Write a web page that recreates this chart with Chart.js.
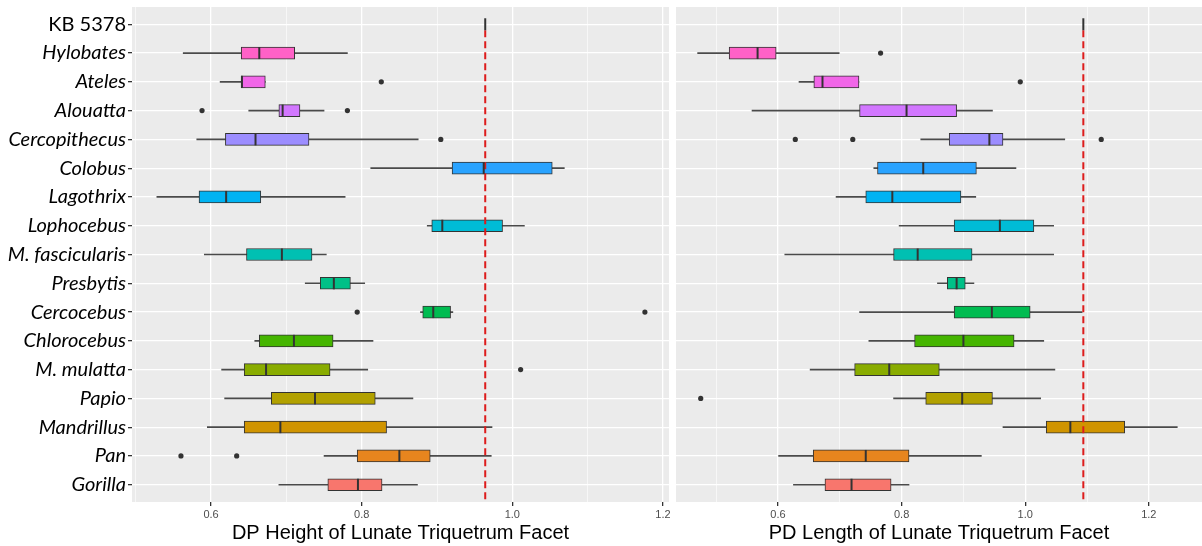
<!DOCTYPE html>
<html>
<head>
<meta charset="utf-8">
<script src="https://cdn.jsdelivr.net/npm/chart.js@4"></script>
<style>
  html, body { margin: 0; padding: 0; background: #ffffff; }
  body { width: 1202px; height: 546px; position: relative; overflow: hidden; }
  .wrap { position: absolute; top: 0; height: 546px; }
  #w1 { left: 0; width: 670px; }
  #w2 { left: 670px; width: 532px; }
</style>
</head>
<body>
<div class="wrap" id="w1"><canvas id="c1"></canvas></div>
<div class="wrap" id="w2"><canvas id="c2"></canvas></div>
<script>
// ---------- DATA ----------
const categories = ['KB 5378','Hylobates','Ateles','Alouatta','Cercopithecus','Colobus','Lagothrix','Lophocebus','M. fascicularis','Presbytis','Cercocebus','Chlorocebus','M. mulatta','Papio','Mandrillus','Pan','Gorilla'];

// DP Height (species order = categories[1..16])
const dpLow    = [0.563,0.612,0.650,0.581,0.812,0.528,0.887,0.591,0.725,0.878,0.658,0.614,0.618,0.595,0.750,0.690];
const dpQ1     = [0.640,0.640,0.690,0.619,0.920,0.584,0.893,0.647,0.745,0.881,0.664,0.644,0.680,0.644,0.794,0.755];
const dpMedian = [0.664,0.641,0.695,0.659,0.962,0.620,0.907,0.694,0.763,0.895,0.710,0.673,0.738,0.692,0.850,0.795];
const dpQ3     = [0.711,0.672,0.718,0.730,1.053,0.666,0.987,0.734,0.785,0.918,0.762,0.758,0.818,0.833,0.891,0.827];
const dpHigh   = [0.781,0.672,0.750,0.875,1.069,0.778,1.016,0.753,0.804,0.921,0.815,0.808,0.868,0.973,0.972,0.874];
const dpOutliers = [[],[0.826],[0.588,0.781],[0.905],[],[],[],[],[],[0.794,1.176],[],[1.011],[],[],[0.560,0.634],[]];
const dpKB = 0.964;

// PD Length
const pdLow    = [0.470,0.634,0.558,0.831,0.755,0.694,0.796,0.611,0.858,0.732,0.747,0.652,0.787,0.964,0.601,0.625];
const pdQ1     = [0.521,0.658,0.732,0.877,0.761,0.742,0.885,0.787,0.874,0.885,0.821,0.724,0.839,1.034,0.657,0.676];
const pdMedian = [0.567,0.672,0.808,0.942,0.835,0.785,0.959,0.826,0.889,0.946,0.900,0.780,0.898,1.073,0.742,0.719];
const pdQ3     = [0.597,0.731,0.889,0.964,0.921,0.896,1.014,0.914,0.903,1.008,0.982,0.861,0.947,1.161,0.812,0.783];
const pdHigh   = [0.699,0.731,0.947,1.064,0.985,0.920,1.046,1.046,0.917,1.092,1.030,1.048,1.025,1.246,0.929,0.812];
const pdOutliers = [[0.766],[0.992],[],[0.628,0.721,1.123],[],[],[],[],[],[],[],[],[0.475],[],[],[]];
const pdKB = 1.094;

const xTicksMajor = [0.6, 0.8, 1.0, 1.2];

// ---------- STYLE HELPERS ----------
function hcl2hex(h, c, l) {
  const WX = 95.047, WY = 100.0, WZ = 108.883;
  const hr = h * Math.PI / 180;
  const U = c * Math.cos(hr), V = c * Math.sin(hr);
  const Y = l > 7.999592 ? WY * Math.pow((l + 16) / 116, 3) : WY * l / 903.3;
  const t = WX + 15 * WY + 3 * WZ;
  const un = 4 * WX / t, vn = 9 * WY / t;
  const u = U / (13 * l) + un, v = V / (13 * l) + vn;
  const X = 9.0 * Y * u / (4 * v);
  const Z = -X / 3 - 5 * Y + 3 * Y / v;
  const g = x => { x = x > 0.00304 ? 1.055 * Math.pow(x, 1 / 2.4) - 0.055 : 12.92 * x; return Math.round(255 * Math.min(1, Math.max(0, x))); };
  const r = g((3.240479 * X - 1.537150 * Y - 0.498535 * Z) / WY);
  const gg = g((-0.969256 * X + 1.875992 * Y + 0.041556 * Z) / WY);
  const b = g((0.055648 * X - 0.204043 * Y + 1.057311 * Z) / WY);
  return '#' + [r, gg, b].map(n => n.toString(16).padStart(2, '0')).join('');
}
// ggplot hue palette: first level (Gorilla, bottom) gets hue 15
const nLevels = categories.length;
const colorFor = idx => hcl2hex(15 + 360 * (nLevels - 1 - idx) / nLevels, 100, 65);

const ROW_PAD = 0.6;
const BOX_H = 12;

function buildChart(canvasId, low, q1, med, q3, high, outliers, kb, title, showY) {
  const speciesIdx = low.map((_, i) => i + 1);
  const boxData = speciesIdx.map((ci, i) => ({ y: ci, x: [q1[i], q3[i]] }));
  const whiskerData = speciesIdx.map((ci, i) => ({ y: ci, x: [low[i], high[i]] }));
  const boxColors = speciesIdx.map(ci => colorFor(ci));

  const overlay = {
    id: 'overlay_' + canvasId,
    beforeDraw(chart) {
      const a = chart.chartArea, ctx = chart.ctx;
      ctx.save();
      ctx.fillStyle = '#EBEBEB';
      ctx.fillRect(a.left, a.top, a.right - a.left, a.bottom - a.top);
      ctx.restore();
    },
    afterDatasetsDraw(chart) {
      const ctx = chart.ctx, xs = chart.scales.x, ys = chart.scales.y, a = chart.chartArea;
      ctx.save();
      ctx.beginPath();
      ctx.rect(a.left, a.top, a.right - a.left, a.bottom - a.top);
      ctx.clip();
      // dashed reference line at KB value
      const kx = xs.getPixelForValue(kb);
      ctx.strokeStyle = '#DD1C1C';
      ctx.lineWidth = 2;
      ctx.setLineDash([7, 4]);
      ctx.beginPath();
      ctx.moveTo(kx, ys.getPixelForValue(0) + BOX_H / 2);
      ctx.lineTo(kx, a.bottom - 2);
      ctx.stroke();
      ctx.setLineDash([]);
      // KB single value
      ctx.strokeStyle = '#333333';
      ctx.lineWidth = 2;
      const ky = ys.getPixelForValue(0);
      ctx.beginPath();
      ctx.moveTo(kx, ky - BOX_H / 2);
      ctx.lineTo(kx, ky + BOX_H / 2);
      ctx.stroke();
      // medians
      speciesIdx.forEach((ci, i) => {
        const mx = xs.getPixelForValue(med[i]);
        const my = ys.getPixelForValue(ci);
        ctx.beginPath();
        ctx.moveTo(mx, my - BOX_H / 2);
        ctx.lineTo(mx, my + BOX_H / 2);
        ctx.stroke();
      });
      // outliers
      ctx.fillStyle = '#333333';
      speciesIdx.forEach((ci, i) => {
        outliers[i].forEach(v => {
          ctx.beginPath();
          ctx.arc(xs.getPixelForValue(v), ys.getPixelForValue(ci), 2.6, 0, Math.PI * 2);
          ctx.fill();
        });
      });
      ctx.restore();
    }
  };

  const isMajor = v => xTicksMajor.some(t => Math.abs(t - v) < 1e-6);

  return new Chart(document.getElementById(canvasId), {
    type: 'bar',
    data: {
      datasets: [
        {
          label: 'box',
          data: boxData,
          backgroundColor: boxColors,
          borderColor: '#333333',
          borderWidth: 1,
          borderSkipped: false,
          barThickness: BOX_H,
          grouped: false
        },
        {
          label: 'whisker',
          data: whiskerData,
          backgroundColor: '#4a4a4a',
          borderWidth: 0,
          barThickness: 1,
          grouped: false
        }
      ]
    },
    options: {
      indexAxis: 'y',
      responsive: true,
      maintainAspectRatio: false,
      animation: false,
      layout: { padding: showY ? { top: 7, right: 1, left: 0, bottom: 0 } : { top: 7, right: 0, left: 6, bottom: 0 } },
      plugins: { legend: { display: false }, tooltip: { enabled: false } },
      scales: {
        x: {
          type: 'linear',
          min: showY ? 0.495 : 0.435,
          max: showY ? 1.208 : 1.286,
          border: { display: false },
          grid: {
            color: '#FFFFFF',
            lineWidth: c => isMajor(c.tick.value) ? 1.3 : 0.6,
            tickColor: c => isMajor(c.tick.value) ? '#333333' : 'rgba(0,0,0,0)',
            tickLength: 4,
            drawTicks: true
          },
          ticks: {
            stepSize: 0.1,
            includeBounds: false,
            autoSkip: false,
            maxRotation: 0,
            padding: 2,
            color: '#4D4D4D',
            font: { family: 'Liberation Sans, Arial, sans-serif', size: 11 },
            callback: v => isMajor(v) ? Number(v).toFixed(1) : ''
          },
          title: {
            display: true,
            text: title,
            color: '#000000',
            font: { family: 'Liberation Sans, Arial, sans-serif', size: 20 },
            padding: { top: 0, bottom: 1 }
          },
          afterFit: s => { s.height = 44; s.paddingLeft = 0; s.paddingRight = 0; }
        },
        y: {
          type: 'linear',
          reverse: true,
          offset: false,
          min: -ROW_PAD,
          max: categories.length - 1 + ROW_PAD,
          border: { display: false },
          grid: {
            offset: false,
            color: '#FFFFFF',
            lineWidth: 1.3,
            tickColor: '#333333',
            tickLength: showY ? 4 : 0,
            drawTicks: showY
          },
          ticks: {
            display: showY,
            stepSize: 1,
            autoSkip: false,
            includeBounds: false,
            padding: 2,
            color: '#000000',
            font: c => ({ family: 'Lato, sans-serif', size: 20, style: (c.tick && c.tick.value === 0) ? 'normal' : 'italic' }),
            callback: v => categories[v] !== undefined ? categories[v] : ''
          },
          afterFit: s => { s.width = showY ? 132 : 0; s.paddingTop = 0; s.paddingBottom = 0; }
        }
      }
    },
    plugins: [overlay]
  });
}

buildChart('c1', dpLow, dpQ1, dpMedian, dpQ3, dpHigh, dpOutliers, dpKB, 'DP Height of Lunate Triquetrum Facet', true);
buildChart('c2', pdLow, pdQ1, pdMedian, pdQ3, pdHigh, pdOutliers, pdKB, 'PD Length of Lunate Triquetrum Facet', false);
</script>
</body>
</html>
